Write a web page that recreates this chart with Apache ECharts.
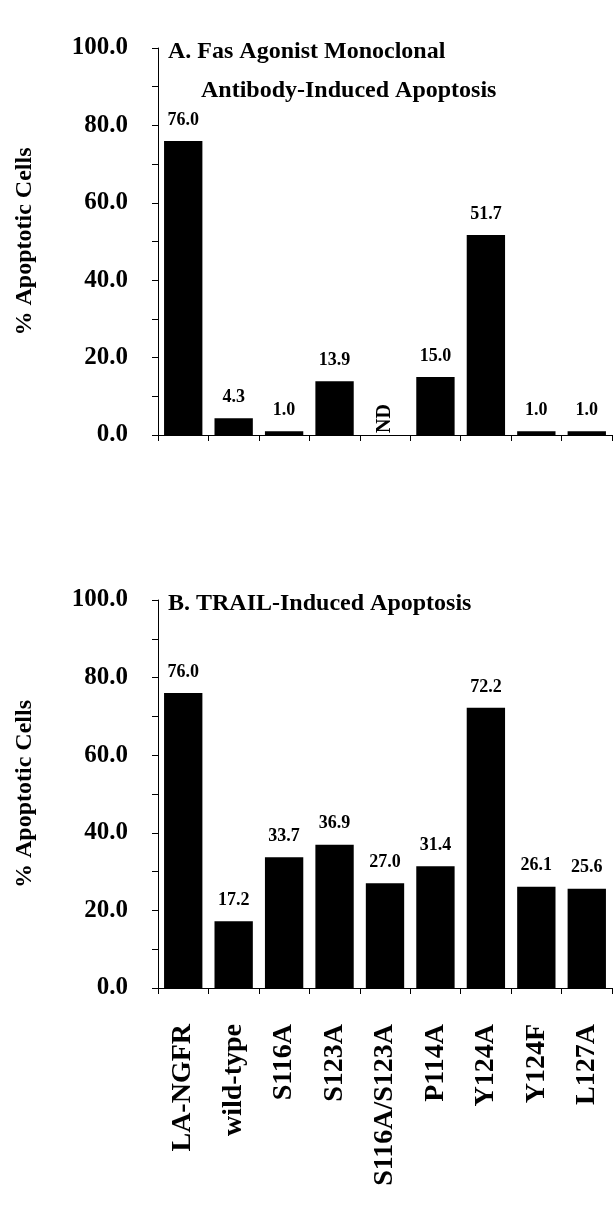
<!DOCTYPE html>
<html>
<head>
<meta charset="utf-8">
<script src="https://cdn.jsdelivr.net/npm/echarts@6/dist/echarts.min.js"></script>
<style>
html,body{margin:0;padding:0;background:#fff;}
#chart{width:614px;height:1223px;}
</style>
</head>
<body>
<div id="chart"></div>
<script>
var categories = ['LA-NGFR','wild-type','S116A','S123A','S116A/S123A','P114A','Y124A','Y124F','L127A'];
// Panel A: Fas agonist mAb; S116A/S123A not determined (ND)
var fasValues = [76.0, 4.3, 1.0, 13.9, null, 15.0, 51.7, 1.0, 1.0];
var trailValues = [76.0, 17.2, 33.7, 36.9, 27.0, 31.4, 72.2, 26.1, 25.6];
var yTicks = [0, 20, 40, 60, 80, 100];
var titleA1 = 'A. Fas Agonist Monoclonal';
var titleA2 = 'Antibody-Induced Apoptosis';
var titleB = 'B. TRAIL-Induced Apoptosis';
var yName = '% Apoptotic Cells';
var ndText = 'ND';

var FONT = '"Liberation Serif", "Times New Roman", serif';
var chart = echarts.init(document.getElementById('chart'), null, {renderer:'canvas'});

function yAxisCfg(gi){
  return {
    type:'value', gridIndex:gi, min:yTicks[0], max:yTicks[yTicks.length-1], interval:20,
    name:yName, nameLocation:'middle', nameRotate:90, nameGap:121,
    nameTextStyle:{fontFamily:FONT, fontWeight:'bold', fontSize:24, color:'#000'},
    axisLine:{show:true, lineStyle:{color:'#000', width:1}},
    axisTick:{show:true, inside:false, length:6, lineStyle:{color:'#000'}},
    minorTick:{show:true, splitNumber:2, length:6, lineStyle:{color:'#000'}},
    splitLine:{show:false},
    axisLabel:{fontFamily:FONT, fontWeight:'bold', fontSize:25, color:'#000', margin:30,
      formatter:function(v){return v.toFixed(1);}}
  };
}
function xAxisCfg(gi, showLabels){
  return {
    type:'category', gridIndex:gi, data:categories,
    axisLine:{show:true, lineStyle:{color:'#000', width:1}},
    axisTick:{show:true, inside:false, length:6, alignWithLabel:false, lineStyle:{color:'#000'}},
    axisLabel:{show:showLabels, rotate:90, interval:0, margin:36, fontFamily:FONT, fontWeight:'bold', fontSize:28, color:'#000'}
  };
}

var fasData = fasValues.map(function(v){
  if (v === null) {
    return {value:0, label:{show:true, formatter:ndText, rotate:90, position:'insideBottom', distance:2, align:'left', verticalAlign:'middle', fontSize:20}};
  }
  return v;
});

var valueLabel = {show:true, position:'top', distance:12, fontFamily:FONT, fontWeight:'bold', fontSize:18, color:'#000',
  formatter:function(p){return p.value.toFixed(1);}};

var option = {
  backgroundColor:'#fff',
  animation:false,
  title:[
    {text:titleA1, left:163, top:35, textStyle:{fontFamily:FONT, fontWeight:'bold', fontSize:24, color:'#000'}},
    {text:titleA2, left:196, top:74, textStyle:{fontFamily:FONT, fontWeight:'bold', fontSize:24, color:'#000'}},
    {text:titleB, left:163, top:587, textStyle:{fontFamily:FONT, fontWeight:'bold', fontSize:24, color:'#000'}}
  ],
  grid:[
    {left:158, right:2, top:48, height:387},
    {left:158, right:2, top:600, height:388}
  ],
  xAxis:[xAxisCfg(0,false), xAxisCfg(1,true)],
  yAxis:[yAxisCfg(0), yAxisCfg(1)],
  series:[
    {type:'bar', xAxisIndex:0, yAxisIndex:0, data:fasData, barCategoryGap:'24%',
     itemStyle:{color:'#000'}, label:valueLabel},
    {type:'bar', xAxisIndex:1, yAxisIndex:1, data:trailValues, barCategoryGap:'24%',
     itemStyle:{color:'#000'}, label:valueLabel}
  ]
};
chart.setOption(option);
</script>
</body>
</html>
